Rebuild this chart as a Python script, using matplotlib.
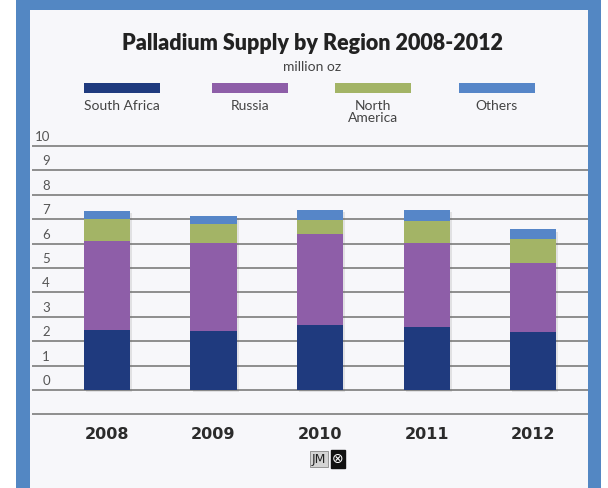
import matplotlib
matplotlib.use("Agg")
import matplotlib.pyplot as plt
from matplotlib.patches import Rectangle
from matplotlib.transforms import ScaledTranslation
import matplotlib.patheffects as pe
import numpy as np

years = ["2008", "2009", "2010", "2011", "2012"]
regions = ["South Africa", "Russia", "North\nAmerica", "Others"]
south_africa = [2.44, 2.40, 2.67, 2.60, 2.36]
russia = [3.66, 3.64, 3.71, 3.44, 2.85]
north_america = [0.92, 0.78, 0.59, 0.89, 0.96]
others = [0.32, 0.31, 0.41, 0.45, 0.41]
colors = ["#1f3a7e", "#8e5ea8", "#a3b466", "#5686c8"]
ytick_values = list(range(-1, 11))
ytick_labels = [""] + [str(v) for v in range(0, 11)]

W, H = 608, 488
fig = plt.figure(figsize=(W / 100, H / 100), dpi=100)
fig.patch.set_facecolor("white")

# frame
fig.add_artist(Rectangle((16 / W, 0), (601 - 16) / W, 1, transform=fig.transFigure,
                         facecolor="#5387c3", edgecolor="none", zorder=-2))
fig.add_artist(Rectangle((30 / W, 0), (588 - 30) / W, (H - 10) / H, transform=fig.transFigure,
                         facecolor="#f7f7fa", edgecolor="none", zorder=-1))

ax = fig.add_axes([32 / W, (H - 415.6) / H, (588 - 32) / W, 270.8 / H])
ax.set_zorder(2)
ax.set_facecolor("none")
for s in ax.spines.values():
    s.set_visible(False)

x = np.arange(len(years))
series = [south_africa, russia, north_america, others]
bottom = np.zeros(len(years))
for vals, c in zip(series, colors):
    ax.bar(x, vals, bottom=bottom, width=0.432, color=c, zorder=3)
    bottom += np.array(vals)
# soft shadow behind complete stacks
tot = ax.bar(x, bottom, width=0.432, color="#f7f7fa", zorder=2.5)
for b in tot:
    b.set_path_effects([pe.SimplePatchShadow(offset=(1.5, -1.5), alpha=0.15, shadow_rgbFace="#666666")])

ax.set_xlim(-0.704, 4.516)
ax.set_ylim(-1.05, 10.05)
ax.set_yticks(ytick_values)
ax.set_yticklabels(ytick_labels)
ax.yaxis.grid(True, color="#858585", linewidth=1.3, zorder=1)
ax.set_axisbelow(True)
ax.tick_params(axis="y", length=0, pad=-13, labelsize=9.5, labelcolor="#555555")
for lbl in ax.get_yticklabels():
    lbl.set_horizontalalignment("right")
    lbl.set_fontfamily("Lato")
    lbl.set_transform(lbl.get_transform() + ScaledTranslation(0, 0.10, fig.dpi_scale_trans))

ax.set_xticks(x)
ax.set_xticklabels(years, fontfamily="DejaVu Sans", fontweight="bold", fontsize=11.5, color="#2b2b2b")
ax.tick_params(axis="x", length=0, pad=8)

# title
fig.text(313 / W, 1 - 43 / H, "Palladium Supply by Region 2008-2012", ha="center", va="center",
         fontfamily="Lato", fontweight="heavy", fontsize=15.5, color="#222222")
fig.text(312 / W, 1 - 67 / H, "million oz", ha="center", va="center",
         fontfamily="Lato", fontsize=10, color="#444444")

# legend
leg_centers = [122, 250, 373, 497]
for cx, lab, c in zip(leg_centers, regions, colors):
    fig.add_artist(Rectangle(((cx - 38) / W, 1 - 93 / H), 76 / W, 10 / H, transform=fig.transFigure,
                             facecolor=c, edgecolor="none", zorder=3))
    fig.text(cx / W, 1 - 100 / H, lab, ha="center", va="top", fontfamily="Lato",
             fontsize=10, color="#444444", linespacing=0.95)

# logo
fig.text(319 / W, 1 - 459 / H, "JM", ha="center", va="center", fontfamily="DejaVu Sans",
         fontsize=9, color="#222222",
         bbox=dict(boxstyle="square,pad=0.15", facecolor="#d4d4d4", edgecolor="#888888", linewidth=0.6))
fig.text(338 / W, 1 - 459 / H, "⊗", ha="center", va="center", fontfamily="DejaVu Sans",
         fontsize=10, color="white",
         bbox=dict(boxstyle="square,pad=0.12", facecolor="#111111", edgecolor="#111111"))

fig.savefig("out.png", dpi=100, facecolor=fig.get_facecolor())
